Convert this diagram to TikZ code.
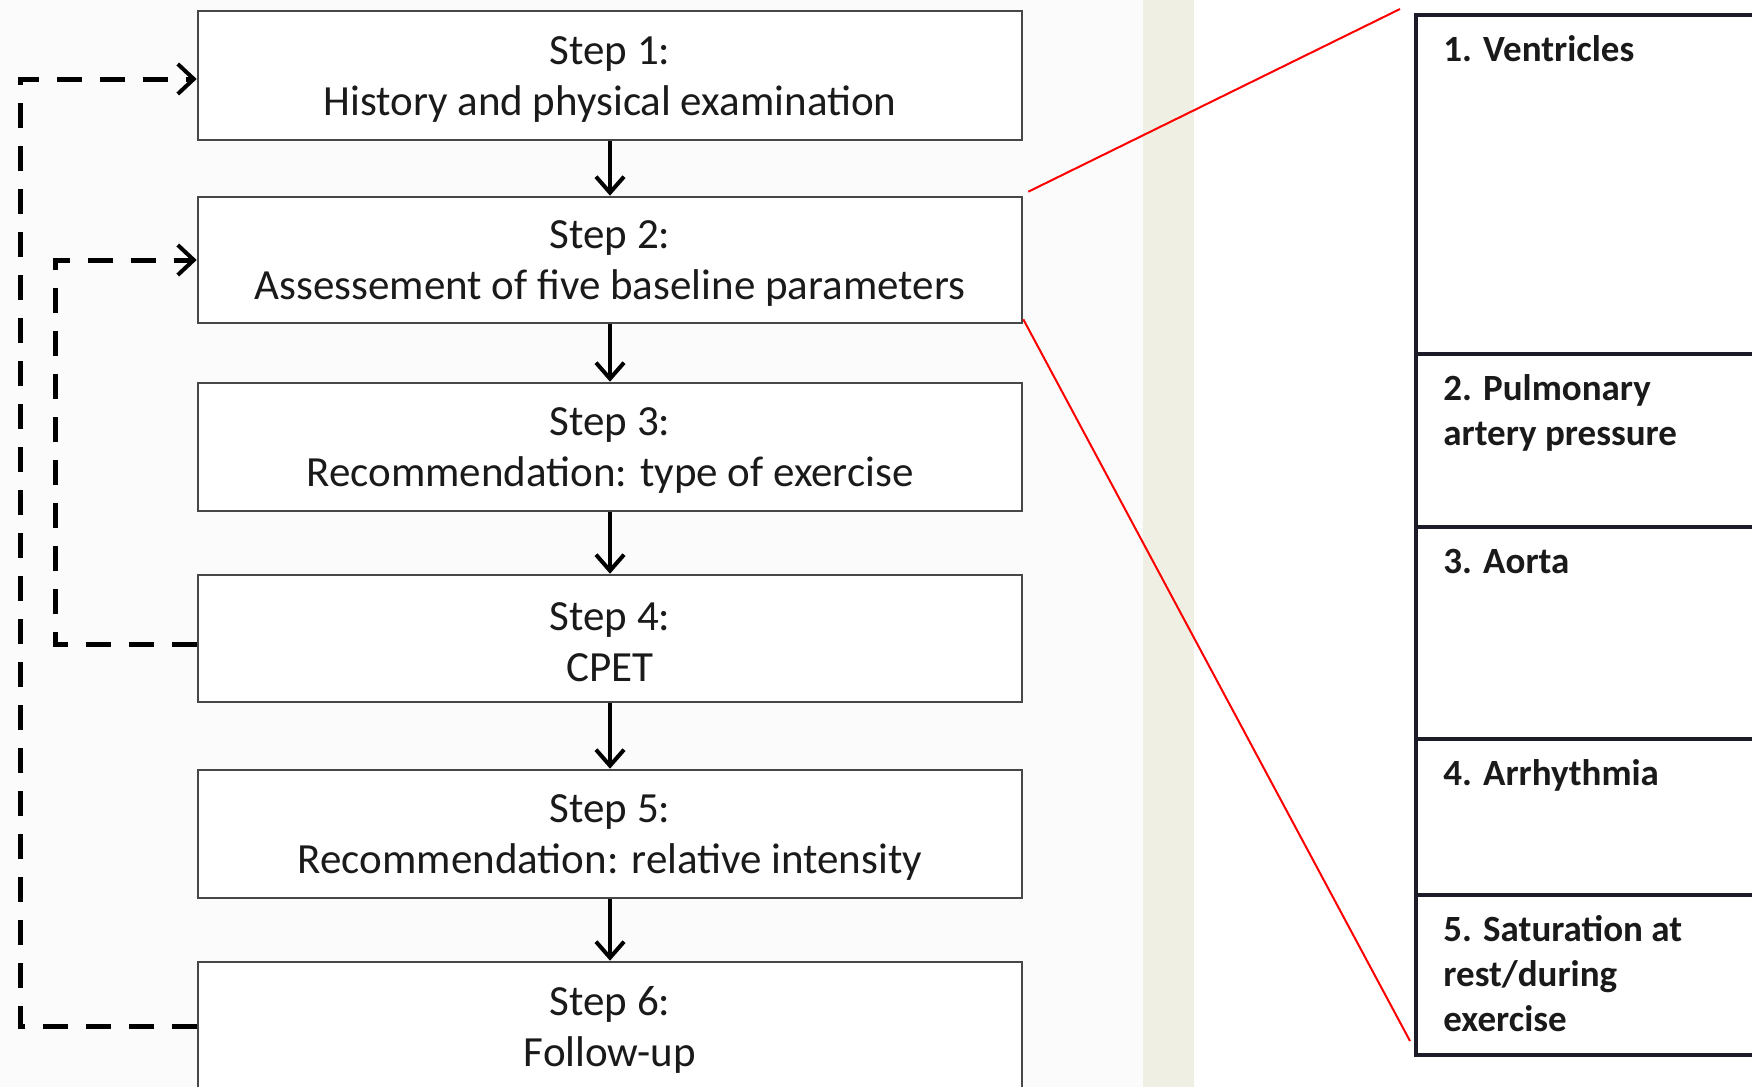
\documentclass[tikz,border=0pt]{standalone}
\usepackage{fontspec}
\setmainfont{Carlito}
\usetikzlibrary{arrows.meta}
\definecolor{bandcol}{HTML}{EFF0E3}
\definecolor{leftbg}{HTML}{FBFBFB}
\definecolor{boxline}{HTML}{474747}
\definecolor{tabline}{HTML}{1C1C28}
\definecolor{txtcol}{HTML}{1A1A1A}
\begin{document}
\begin{tikzpicture}[x=0.5pt,y=-0.5pt,
  stepbox/.style={draw=boxline, line width=1.3pt, fill=white, minimum width=412pt, inner sep=0pt},
  steptext/.style={align=center, text=txtcol, inner sep=0pt, yshift=-2pt,
    font=\fontsize{21.5}{25.5}\selectfont},
  flow/.style={-{Straight Barb[length=8pt,width=14pt,line width=2pt]}, line width=2pt},
  back/.style={dash pattern=on 12.5pt off 9pt, line width=2.5pt},
  backarrow/.style={back, -{Straight Barb[length=8pt,width=15pt,line width=2pt]}},
  zoomline/.style={red, line width=1pt},
  rowbox/.style={draw=tabline, line width=2pt, minimum width=250pt, anchor=north west, inner sep=0pt},
  tabtext/.style={anchor=base west, font=\bfseries\fontsize{18.5}{22.5}\selectfont, align=left, inner sep=0pt, text=txtcol},
]
\useasboundingbox (0,0) rectangle (1752,1087);
\clip (0,0) rectangle (1752,1087);
\fill[leftbg] (0,0) rectangle (1143,1087);
\fill[white] (1194,0) rectangle (1752,1087);
\fill[bandcol] (1143,0) rectangle (1194,1087);

% step boxes
\node[stepbox, minimum height=64.5pt, label={[steptext]center:{Step 1:\\History and physical examination}}] (s1) at (610,75.5) {};
\node[stepbox, minimum height=63pt,   label={[steptext]center:{Step 2:\\Assessement of five baseline parameters}}] (s2) at (610,260) {};
\node[stepbox, minimum height=64pt,   label={[steptext]center:{Step 3:\\Recommendation: type of exercise}}] (s3) at (610,447) {};
\node[stepbox, minimum height=63.5pt, label={[steptext]center:{Step 4:\\CPET}}] (s4) at (610,638.5) {};
\node[stepbox, minimum height=64pt,   label={[steptext]center:{Step 5:\\Recommendation: relative intensity}}] (s5) at (610,834) {};
\node[stepbox, minimum height=64pt,   label={[steptext]center:{Step 6:\\Follow-up}}] (s6) at (610,1026) {};

% flow arrows
\draw[flow] (s1) -- (s2);
\draw[flow] (s2) -- (s3);
\draw[flow] (s3) -- (s4);
\draw[flow] (s4) -- (s5);
\draw[flow] (s5) -- (s6);

% feedback loops
\coordinate (c1) at (20,79);
\coordinate (c2) at (55,260);
\draw[backarrow] (s6.west) -| (c1) -- (s1.west |- c1);
\draw[backarrow] ([yshift=-3pt]s4.west) -| (c2) -- (s2.west);

% table rows
\node[rowbox, minimum height=169.5pt] (r1) at (1414,13)  {};
\node[rowbox, minimum height=86.5pt]  (r2) at (1414,352) {};
\node[rowbox, minimum height=106pt]   (r3) at (1414,525) {};
\node[rowbox, minimum height=78pt]    (r4) at (1414,737) {};
\node[rowbox, minimum height=80pt]    (r5) at (1414,893) {};

\node[tabtext] (t1) at (1443,61)   {1. Ventricles};
\node[tabtext] (t2) at (1443,445)  {2. Pulmonary\\artery pressure};
\node[tabtext] (t3) at (1443,573)  {3. Aorta};
\node[tabtext] (t4) at (1443,785)  {4. Arrhythmia};
\node[tabtext] (t5) at (1443,1031) {5. Saturation at\\rest/during\\exercise};

% zoom lines
\coordinate (z1) at (1400,9);
\coordinate (z2) at (1410,1041);
\draw[zoomline] ([shift={(5,-4)}]s2.north east) -- (z1);
\draw[zoomline] ([shift={(0,-5)}]s2.south east) -- (z2);
\end{tikzpicture}
\end{document}
